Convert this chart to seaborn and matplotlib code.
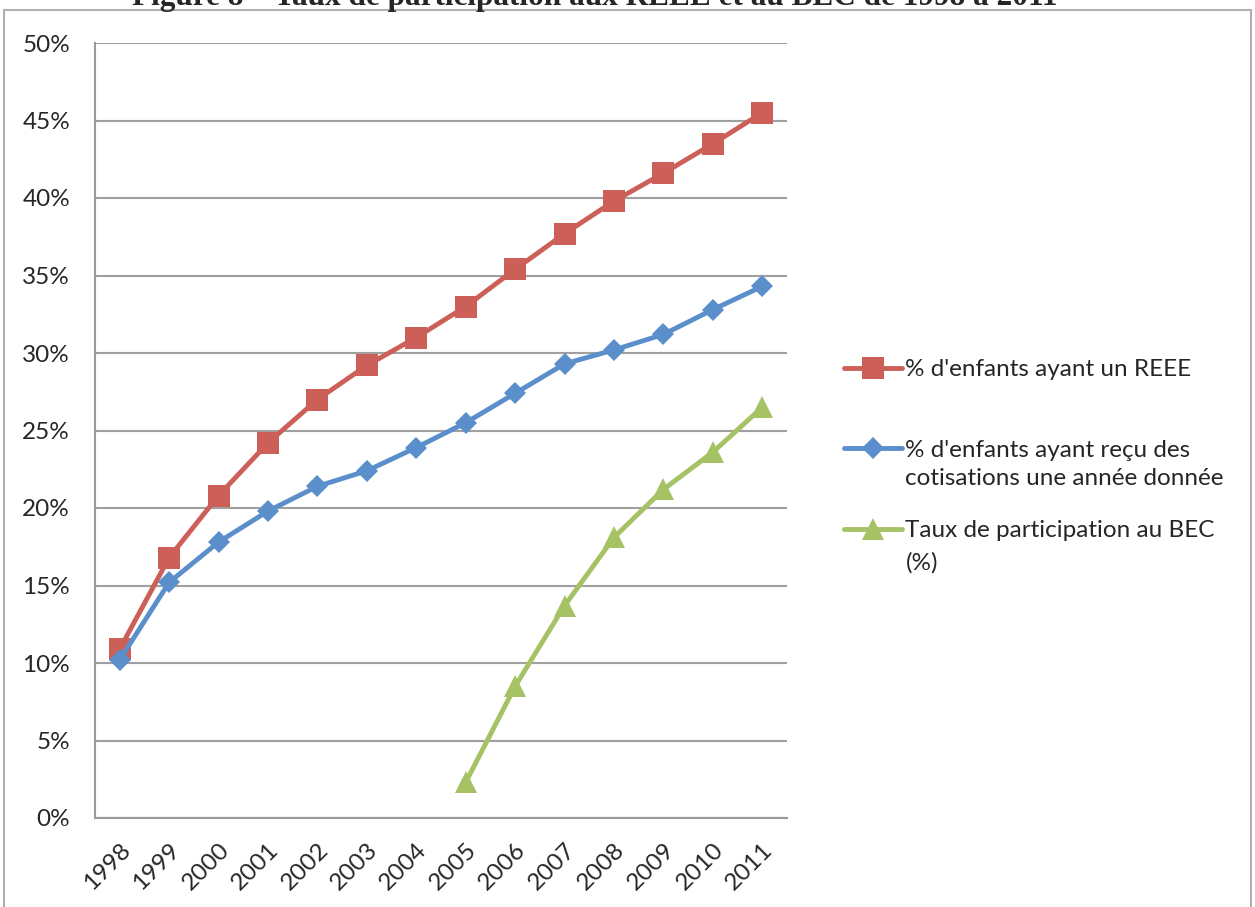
import numpy as np
import pandas as pd
import matplotlib
matplotlib.use("Agg")
import matplotlib.pyplot as plt
from matplotlib.patches import Rectangle
import seaborn as sns

# ---- data -------------------------------------------------------------
years = ["1998", "1999", "2000", "2001", "2002", "2003", "2004",
         "2005", "2006", "2007", "2008", "2009", "2010", "2011"]
reee = [10.9, 16.8, 20.8, 24.2, 27.0, 29.2, 31.0,
        33.0, 35.4, 37.7, 39.8, 41.6, 43.5, 45.5]
cotisations = [10.2, 15.2, 17.8, 19.8, 21.4, 22.4, 23.9,
               25.5, 27.4, 29.3, 30.2, 31.2, 32.8, 34.3]
bec = [np.nan, np.nan, np.nan, np.nan, np.nan, np.nan, np.nan,
       2.3, 8.5, 13.7, 18.1, 21.2, 23.6, 26.5]
series_labels = ["% d'enfants ayant un REEE",
                 "% d'enfants ayant reçu des",
                 "Taux de participation au BEC"]
series_extra = ["", "cotisations une année donnée", "(%)"]
y_ticks = [0, 5, 10, 15, 20, 25, 30, 35, 40, 45, 50]
title = "Figure 8 – Taux de participation aux REEE et au BEC de 1998 à 2011"

colors = ["#CC6058", "#5B8FCB", "#A5C265"]
markers = ["s", "D", "^"]
marker_sizes = [16, 11.5, 16]
extra_gap = [0, 28, 32]

FS = 17.5

sns.set_style("white")
plt.rcParams["font.family"] = ["Lato", "DejaVu Sans"]

fig = plt.figure(figsize=(12.55, 9.07), dpi=100)
ax = fig.add_axes([95 / 1255, 1 - 818 / 907, (787 - 95) / 1255, (818 - 43) / 907])

pos = np.arange(len(years))
df = pd.DataFrame({
    "pos": np.tile(pos, 3),
    "value": reee + cotisations + bec,
    "series": np.repeat(series_labels, len(years)),
}).dropna()

for label, color, mk, ms in zip(series_labels, colors, markers, marker_sizes):
    sub = df[df["series"] == label]
    sns.lineplot(data=sub, x="pos", y="value", ax=ax, color=color,
                 linewidth=3.5, marker=mk, markersize=ms,
                 markeredgewidth=0, label=label, legend=False,
                 clip_on=False, zorder=3)

# axes styling
ax.set_xlim(-0.5, len(years) - 0.5)
ax.set_ylim(0, 50)
ax.set_yticks(y_ticks)
ax.set_yticklabels([f"{v}%" for v in y_ticks], fontsize=FS)
ax.set_xticks(np.arange(-0.5, len(years)), labels=[""] * (len(years) + 1))
ax.set_xticks(pos, labels=years, minor=True)
ax.tick_params(axis="x", which="minor", length=0, pad=15, labelsize=FS)
ax.tick_params(axis="x", which="major", length=6, width=1.5, color="#9a9a9a", direction="out")
ax.tick_params(axis="y", length=6, width=1.5, color="#9a9a9a", direction="out", pad=12)
for t in ax.get_xticklabels(minor=True):
    t.set_rotation(45)
    t.set_ha("right")
    t.set_rotation_mode("anchor")
ax.set_xlabel("")
ax.set_ylabel("")
ax.grid(axis="y", color="#a0a0a0", linewidth=1.5)
ax.set_axisbelow(True)
for side in ["top", "right"]:
    ax.spines[side].set_visible(False)
for side in ["left", "bottom"]:
    ax.spines[side].set_color("#9a9a9a")
    ax.spines[side].set_linewidth(1.5)

# legend
handles, labels = ax.get_legend_handles_labels()
leg = fig.legend(handles, labels, loc="upper left",
                 bbox_to_anchor=(832 / 1255, 1 - 347 / 907),
                 frameon=False, fontsize=FS, handlelength=2.4,
                 handletextpad=0.12, labelspacing=2.45, borderpad=0)
fig.canvas.draw()
renderer = fig.canvas.get_renderer()
for txt, extra, gap in zip(leg.get_texts(), series_extra, extra_gap):
    if not extra:
        continue
    bb = txt.get_window_extent(renderer)
    x0, y0 = fig.transFigure.inverted().transform((bb.x0, bb.y0))
    fig.text(x0, y0 - gap / 907, extra, fontsize=FS, ha="left", va="bottom")

# outer frame and clipped heading
fig.patches.append(Rectangle((4 / 1255, -0.05), 1247 / 1255, 1 - 10 / 907 + 0.05,
                             transform=fig.transFigure, fill=False,
                             edgecolor="#b0b0b0", linewidth=1.5))
fig.text(595 / 1255, 1 - 5 / 907, title, ha="center", va="baseline",
         fontsize=22.5, fontweight="bold", family="Liberation Serif")

fig.savefig("out.png", dpi=100)
